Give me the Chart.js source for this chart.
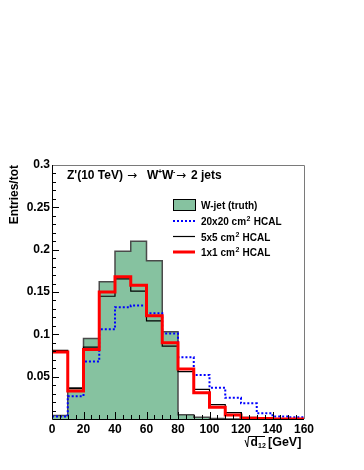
<!DOCTYPE html>
<html>
<head>
<meta charset="utf-8">
<script src="https://cdn.jsdelivr.net/npm/chart.js@4.4.1/dist/chart.umd.min.js"></script>
<style>
  html, body { margin: 0; padding: 0; background: #fff; }
  canvas { display: block; }
</style>
</head>
<body>
<canvas id="chart" width="364" height="470"></canvas>
<script>
// bin edges of sqrt(d12) in GeV
const binEdges = [0, 10, 20, 30, 40, 50, 60, 70, 80, 90, 100, 110, 120, 130, 140, 150, 160];

// Entries/tot per bin
const truthW = [0.004, 0.037, 0.095, 0.162, 0.198, 0.210, 0.187, 0.103, 0.005, 0.002, 0.0005, 0, 0, 0, 0, 0];
const hcal20 = [0.003, 0.027, 0.068, 0.106, 0.132, 0.134, 0.125, 0.101, 0.073, 0.052, 0.037, 0.025, 0.0185, 0.0067, 0.003, 0.002];
const hcal5 = [0.081, 0.036, 0.085, 0.145, 0.1655, 0.151, 0.116, 0.086, 0.056, 0.035, 0.017, 0.0075, 0.002, 0.0005, 0, 0];
const hcal1 = [0.079, 0.033, 0.082, 0.150, 0.168, 0.158, 0.122, 0.090, 0.059, 0.031, 0.014, 0.0047, 0.001, 0.0005, 0, 0];

const xTicks = [0, 20, 40, 60, 80, 100, 120, 140, 160];
const yTicks = [0.05, 0.1, 0.15, 0.2, 0.25, 0.3];

const FONT = '"Liberation Sans", Arial, Helvetica, sans-serif';

// turn bin contents into points for a stepped line
function toSteps(values) {
    const pts = values.map((v, i) => ({ x: binEdges[i], y: v }));
    pts.push({ x: binEdges[values.length], y: values[values.length - 1] });
    return pts;
}

// frame and ROOT-style inward ticks
const framePlugin = {
    id: 'frame',
    afterDatasetsDraw(chart) {
        const { ctx, chartArea: a, scales } = chart;
        const xs = scales.x, ys = scales.y;
        ctx.save();
        ctx.lineWidth = 1;
        ctx.strokeStyle = '#7a7a7a';
        ctx.beginPath();
        ctx.moveTo(a.left, a.top + 0.5);
        ctx.lineTo(a.right + 0.5, a.top + 0.5);
        ctx.lineTo(a.right + 0.5, a.bottom);
        ctx.stroke();

        ctx.strokeStyle = '#000';
        ctx.beginPath();
        ctx.moveTo(a.left + 0.5, a.top);
        ctx.lineTo(a.left + 0.5, a.bottom + 0.5);
        ctx.lineTo(a.right, a.bottom + 0.5);
        // y ticks every 0.01
        for (let i = 1; i < 30; i++) {
            const y = Math.round(ys.getPixelForValue(i / 100)) + 0.5;
            const len = i % 5 === 0 ? 7 : 4;
            ctx.moveTo(a.left, y);
            ctx.lineTo(a.left + len, y);
        }
        // x ticks every 5 GeV
        for (let v = 5; v < 160; v += 5) {
            const x = Math.round(xs.getPixelForValue(v)) + 0.5;
            const len = v % 20 === 0 ? 7 : 4;
            ctx.moveTo(x, a.bottom);
            ctx.lineTo(x, a.bottom - len);
        }
        ctx.stroke();
        ctx.restore();
    }
};

// axis titles, caption and legend
const textPlugin = {
    id: 'texts',
    afterDraw(chart) {
        const { ctx, chartArea: a } = chart;
        ctx.save();
        ctx.fillStyle = '#000';
        ctx.textBaseline = 'alphabetic';

        // y title
        ctx.save();
        ctx.translate(18, a.top);
        ctx.rotate(-Math.PI / 2);
        ctx.font = 'bold 12px ' + FONT;
        ctx.textAlign = 'right';
        ctx.fillText('Entries/tot', 0, 0);
        ctx.restore();

        // x title: sqrt(d12) [GeV]
        ctx.font = 'bold 12px ' + FONT;
        ctx.textAlign = 'left';
        const by = 446;
        ctx.fillText('d', 250.5, by);
        ctx.font = 'bold 7px ' + FONT;
        ctx.fillText('12', 258, by + 2);
        ctx.font = 'bold 12.5px ' + FONT;
        ctx.fillText('[GeV]', 268, by);
        ctx.strokeStyle = '#000';
        ctx.lineWidth = 1;
        ctx.beginPath();
        ctx.moveTo(245, 440);
        ctx.lineTo(247.5, 447);
        ctx.lineTo(248.5, 436.5);
        ctx.lineTo(265, 436.5);
        ctx.stroke();

        // caption
        const cy = 179;
        ctx.textAlign = 'left';
        ctx.font = 'bold 12px ' + FONT;
        ctx.fillText("Z'(10 TeV)", 67, cy);
        ctx.font = '12px "DejaVu Sans", sans-serif';
        ctx.fillText('\u2192', 127, cy);
        ctx.font = 'bold 12px ' + FONT;
        ctx.fillText('W', 147, cy);
        ctx.font = 'bold 7px ' + FONT;
        ctx.fillText('+', 158, cy - 5);
        ctx.font = 'bold 12px ' + FONT;
        ctx.fillText('W', 162, cy);
        ctx.font = 'bold 7px ' + FONT;
        ctx.fillText('-', 173, cy - 5);
        ctx.font = '12px "DejaVu Sans", sans-serif';
        ctx.fillText('\u2192', 176, cy);
        ctx.font = 'bold 12px ' + FONT;
        ctx.fillText('2 jets', 191, cy);

        // legend
        const lx0 = 173, lx1 = 195, tx = 201;
        const rows = [205, 221, 236.5, 252];
        const ds = chart.data.datasets;
        ds.forEach((d, i) => {
            const y = rows[i];
            if (d.fill) {
                ctx.fillStyle = d.backgroundColor;
                ctx.fillRect(lx0, y - 5, lx1 - lx0, 11);
                ctx.strokeStyle = '#000';
                ctx.lineWidth = 1;
                ctx.strokeRect(lx0 + 0.5, y - 5.5, lx1 - lx0, 11);
            } else {
                ctx.strokeStyle = d.borderColor;
                ctx.lineWidth = d.borderWidth;
                ctx.setLineDash(d.borderDash || []);
                ctx.beginPath();
                ctx.moveTo(lx0, y);
                ctx.lineTo(lx1, y);
                ctx.stroke();
                ctx.setLineDash([]);
            }
            ctx.fillStyle = '#000';
            ctx.font = 'bold 10px ' + FONT;
            const parts = d.label.split('^2');
            let x = tx;
            ctx.fillText(parts[0], x, y + 4);
            if (parts.length > 1) {
                x += ctx.measureText(parts[0]).width;
                ctx.font = 'bold 7px ' + FONT;
                ctx.fillText('2', x + 0.5, y);
                x += ctx.measureText('2').width + 1;
                ctx.font = 'bold 10px ' + FONT;
                ctx.fillText(parts[1], x, y + 4);
            }
        });
        ctx.restore();
    }
};

new Chart(document.getElementById('chart'), {
    type: 'line',
    data: {
        datasets: [
            {
                label: 'W-jet (truth)',
                data: toSteps(truthW),
                stepped: 'before',
                fill: 'origin',
                backgroundColor: '#86c2a0',
                borderColor: '#4a4a4a',
                borderWidth: 1.5,
                pointRadius: 0,
                order: 4
            },
            {
                label: '20x20 cm^2 HCAL',
                data: toSteps(hcal20),
                stepped: 'before',
                fill: false,
                borderColor: '#0000ff',
                borderWidth: 2,
                borderDash: [2, 2],
                pointRadius: 0,
                order: 2
            },
            {
                label: '5x5 cm^2 HCAL',
                data: toSteps(hcal5),
                stepped: 'before',
                fill: false,
                borderColor: '#000000',
                borderWidth: 1.2,
                pointRadius: 0,
                order: 3
            },
            {
                label: '1x1 cm^2 HCAL',
                data: toSteps(hcal1),
                stepped: 'before',
                fill: false,
                borderColor: '#ff0000',
                borderWidth: 3,
                pointRadius: 0,
                order: 1
            }
        ]
    },
    options: {
        responsive: false,
        animation: false,
        devicePixelRatio: 1,
        layout: { padding: { left: 0, right: 60, top: 165, bottom: 0 } },
        plugins: {
            legend: { display: false },
            tooltip: { enabled: false }
        },
        scales: {
            x: {
                type: 'linear',
                min: 0,
                max: 160,
                grid: { display: false, drawTicks: false },
                border: { display: false },
                afterBuildTicks: s => { s.ticks = xTicks.map(v => ({ value: v })); },
                afterFit: s => { s.height = 51; },
                ticks: {
                    padding: 3,
                    color: '#000',
                    font: { family: FONT, size: 12, weight: 'bold' }
                }
            },
            y: {
                min: 0,
                max: 0.3,
                grid: { display: false, drawTicks: false },
                border: { display: false },
                afterBuildTicks: s => { s.ticks = yTicks.map(v => ({ value: v })); },
                afterFit: s => { s.width = 52; },
                ticks: {
                    padding: 2,
                    color: '#000',
                    font: { family: FONT, size: 12, weight: 'bold' },
                    callback: v => String(+v.toFixed(2))
                }
            }
        }
    },
    plugins: [framePlugin, textPlugin]
});
</script>
</body>
</html>
